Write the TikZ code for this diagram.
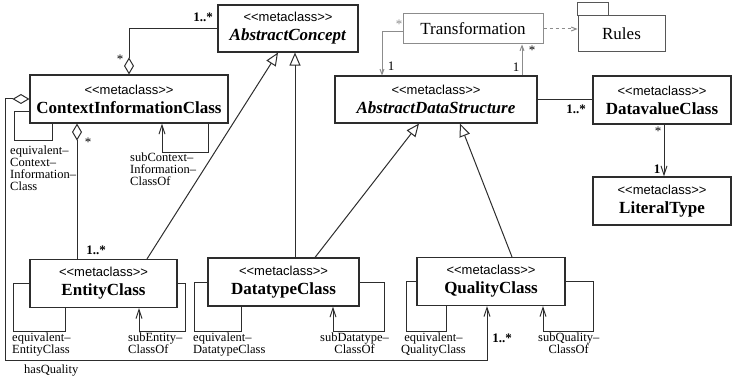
\documentclass[tikz,border=0pt]{standalone}
\usepackage{fontspec}
\setmainfont{Liberation Serif}
\setsansfont{Liberation Sans}
\usetikzlibrary{arrows.meta,positioning}
\definecolor{umlline}{RGB}{45,45,45}
\definecolor{umlgray}{RGB}{140,140,140}
\newcommand*{\stereo}{{\sffamily\fontsize{13}{13}\selectfont <\kern0pt<metaclass>\kern0pt>}}
\newcommand*{\meta}[1]{\stereo\\\textbf{#1}}
\tikzset{%
  diam/.tip={Diamond[open,length=17pt,width=10pt]},% aggregation end
  tri/.tip={Triangle[open,length=13pt,width=11pt]},% generalization end
  barb/.tip={Straight Barb[length=9pt,width=6pt]},% navigable end
  small/.tip={Straight Barb[length=5pt,width=4pt]},% small navigable end
  classbox/.style={draw=umlline, line width=1.1pt, minimum width=#1, minimum height=48pt,
    inner sep=0pt, align=center, font=\fontsize{17}{19}\selectfont},% metaclass box
  plainbox/.style={draw=umlgray, line width=1pt, minimum width=#1, inner sep=0pt,
    font=\fontsize{17}{19}\selectfont},% plain class / package
  assoc/.style={draw=umlline, line width=1pt},% connector
  light/.style={draw=umlgray, line width=1pt},% gray connector
  lbl/.style={anchor=north west, inner sep=0pt, align=left, font=\fontsize{12.5}{12}\selectfont},% role name
  mult/.style={inner sep=0pt, font=\fontsize{13}{13}\selectfont\bfseries},% multiplicity
  multn/.style={inner sep=0pt, font=\fontsize{13}{13}\selectfont}% plain multiplicity
}
\begin{document}
\begin{tikzpicture}[x=1pt, y=-1pt]
\useasboundingbox (0,0) rectangle (735,379);

% classes
\node[classbox=140pt, minimum height=47pt] (ac) at (288,28.5) {\stereo\\\textbf{\textit{AbstractConcept}}};
\node[classbox=198pt] (cic) at (129,99) {\meta{ContextInformationClass}};
\node[classbox=202pt, minimum height=47pt] (ads) at (436,99.5) {\stereo\\\textbf{\textit{AbstractDataStructure}}};
\node[classbox=138pt] (dvc) at (662,100) {\meta{DatavalueClass}};
\node[classbox=138pt] (lit) at (662,201) {\meta{LiteralType}};
\node[classbox=147pt] (ent) at (103.5,283.5) {\meta{EntityClass}};
\node[classbox=151pt] (dtc) at (283.5,282) {\meta{DatatypeClass}};
\node[classbox=148pt] (qc) at (491,281.5) {\meta{QualityClass}};

% transformation and rules package
\node[plainbox=140pt, minimum height=30pt] (trans) at (473,29) {Transformation};
\node[plainbox=87pt, minimum height=36pt, draw=umlline!80] (rules) at (621.5,34) {Rules};
\draw[draw=umlline!80, line width=1pt] (rules.north west) rectangle ++(31,-13);

% aggregations
\draw[assoc, diam-] (cic.north) |- (ac.west);
\draw[assoc, diam-] ([xshift=-52pt]cic.south) -- ([xshift=-26.5pt]ent.north);
\coordinate (hq) at (5,360);
\draw[assoc, diam-barb] (cic.west) -| (hq) -| ([xshift=-4pt]qc.south);

% generalizations
\draw[assoc, -tri] ([xshift=43.5pt]ent.north) -- ([xshift=-10pt]ac.south);
\draw[assoc, -tri] ([xshift=11.5pt]dtc.north) -- ([xshift=7pt]ac.south);
\draw[assoc, -tri] ([xshift=31.5pt]dtc.north) -- ([xshift=-17pt]ads.south);
\draw[assoc, -tri] ([xshift=21pt]qc.north) -- ([xshift=24pt]ads.south);

% associations
\draw[assoc] (ads.east) -- (ads.east -| dvc.west);
\draw[assoc, -barb] ([xshift=2pt]dvc.south) -- ([xshift=2pt]lit.north);
\draw[light, -small] ([yshift=-3pt]trans.west) -| ([xshift=-54pt]ads.north);
\draw[light, -small] ([xshift=86pt]ads.north) -- ([xshift=49pt]trans.south);
\draw[light, dashed, -small] (trans.east) -- (trans.east -| rules.west);

% self loops
\draw[assoc] ([yshift=-13pt]cic.west) -- ++(-15,0) -- ++(0,29) -| ([xshift=-77pt]cic.south);
\draw[assoc, -barb] ([xshift=79pt]cic.south) -- ++(0,29) -| ([xshift=33pt]cic.south);
\draw[assoc] (ent.west) -- ++(-16,0) -- ++(0,48) -| ([xshift=-38.5pt]ent.south);
\draw[assoc, -barb] (ent.east) -- ++(8,0) -- ++(0,48) -| ([xshift=35.5pt]ent.south);
\draw[assoc] (dtc.west) -- ++(-13,0) -- ++(0,49) -| ([xshift=-42.5pt]dtc.south);
\draw[assoc, -barb] (dtc.east) -- ++(25,0) -- ++(0,49) -| ([xshift=49.5pt]dtc.south);
\draw[assoc] (qc.west) -- ++(-10,0) -- ++(0,49.5) -| ([xshift=-45pt]qc.south);
\draw[assoc, -barb] (qc.east) -- ++(28,0) -- ++(0,49.5) -| ([xshift=52pt]qc.south);

% role names
\node[lbl] (l1) at (10,146) {equivalent--\\Context--\\Information--\\Class};
\node[lbl] (l2) at (130,153) {subContext--\\Information--\\ClassOf};
\node[lbl] (l3) at (12,333) {equivalent--\\EntityClass};
\node[lbl] (l4) at (128,333) {subEntity--\\ClassOf};
\node[lbl] (l5) at (193,333) {equivalent--\\DatatypeClass};
\node[lbl, align=center] (l6) at (320,333) {subDatatype--\\ClassOf};
\node[lbl, align=center] (l7) at (401,333) {equivalent--\\QualityClass};
\node[lbl, align=center] (l8) at (538,333) {subQuality--\\ClassOf};
\node[lbl] (l9) at (24,365) {hasQuality};

% multiplicities
\node[mult] (m1) at (203,17) {1..*};
\node[multn] (m2) at (120,59) {*};
\node[multn] (m3) at (88,142) {*};
\node[mult] (m4) at (96,250) {1..*};
\node[mult] (m5) at (576,109) {1..*};
\node[multn] (m6) at (658,131) {*};
\node[mult] (m7) at (657,169) {1};
\node[mult] (m8) at (502,338) {1..*};
\node[multn, text=umlgray] (m9) at (399,24) {*};
\node[multn] (m10) at (391,66) {1};
\node[multn] (m11) at (532,50) {*};
\node[multn] (m12) at (516,67) {1};
\end{tikzpicture}
\end{document}
